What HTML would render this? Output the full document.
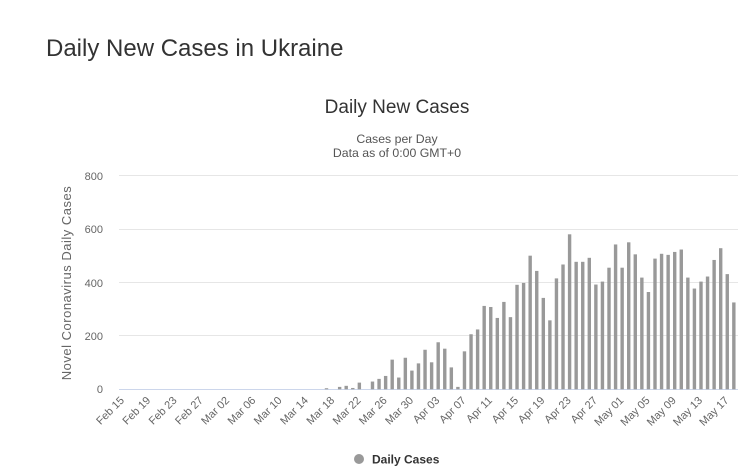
<!DOCTYPE html>
<html><head><meta charset="utf-8"><style>
body{margin:0;background:#fff;font-family:"Liberation Sans",sans-serif;}
</style></head><body>
<svg width="751" height="476" xmlns="http://www.w3.org/2000/svg" style="display:block">
<text x="46" y="56" font-size="24" fill="#333" font-family="Liberation Sans, sans-serif">Daily New Cases in Ukraine</text>
<text x="397" y="113" font-size="19" fill="#333" text-anchor="middle" font-family="Liberation Sans, sans-serif">Daily New Cases</text>
<text x="397" y="143" font-size="12.3" fill="#555" text-anchor="middle" font-family="Liberation Sans, sans-serif">Cases per Day</text>
<text x="397" y="157" font-size="12.3" fill="#555" text-anchor="middle" font-family="Liberation Sans, sans-serif">Data as of 0:00 GMT+0</text>
<g stroke="#e6e6e6" stroke-width="1">
<line x1="119" x2="738" y1="175.5" y2="175.5"/><line x1="119" x2="738" y1="229.5" y2="229.5"/><line x1="119" x2="738" y1="282.5" y2="282.5"/><line x1="119" x2="738" y1="335.5" y2="335.5"/>
</g>
<line x1="119" x2="738" y1="389.5" y2="389.5" stroke="#ccd6eb"/>
<g font-size="11" fill="#666" text-anchor="end" font-family="Liberation Sans, sans-serif">
<text x="103" y="180">800</text><text x="103" y="233">600</text><text x="103" y="287">400</text><text x="103" y="340">200</text><text x="103" y="393">0</text>
</g>
<text transform="translate(71,283) rotate(-90)" font-size="13" letter-spacing="0.5" fill="#666" text-anchor="middle" font-family="Liberation Sans, sans-serif">Novel Coronavirus Daily Cases</text>
<g id="bars" fill="#999"></g>
<g id="xl" font-size="11" fill="#666" text-anchor="end" font-family="Liberation Sans, sans-serif"></g>
<circle cx="359" cy="459" r="5" fill="#999"/>
<text x="372" y="463.5" font-size="12" font-weight="bold" fill="#333" font-family="Liberation Sans, sans-serif">Daily Cases</text>
</svg>
<script>
var v=[4,0,9,13,5,25,0,29,39,50,111,44,118,70,97,148,101,176,152,82,9,142,206,224,312,308,267,327,270,391,398,500,443,342,258,415,467,580,477,477,492,392,403,455,542,455,550,505,418,364,489,507,503,514,523,418,377,403,422,484,528,431,325];
var sp=6.57,x0=326.5,s="";
for(var i=0;i<v.length;i++){var h=v[i]*213.8/800;if(h>0)s+='<rect x="'+(x0+i*sp-1.7).toFixed(2)+'" y="'+(389.3-h).toFixed(2)+'" width="3.4" height="'+h.toFixed(2)+'"/>';}
document.getElementById('bars').innerHTML=s;
var L=["Feb 15","Feb 19","Feb 23","Feb 27","Mar 02","Mar 06","Mar 10","Mar 14","Mar 18","Mar 22","Mar 26","Mar 30","Apr 03","Apr 07","Apr 11","Apr 15","Apr 19","Apr 23","Apr 27","May 01","May 05","May 09","May 13","May 17"];
var t="",f=x0-31*sp;
for(var j=0;j<L.length;j++){var x=f+j*4*sp+2;t+='<text transform="translate('+x.toFixed(1)+',401) rotate(-45)">'+L[j]+'</text>';}
document.getElementById('xl').innerHTML=t;
</script>
</body></html>
